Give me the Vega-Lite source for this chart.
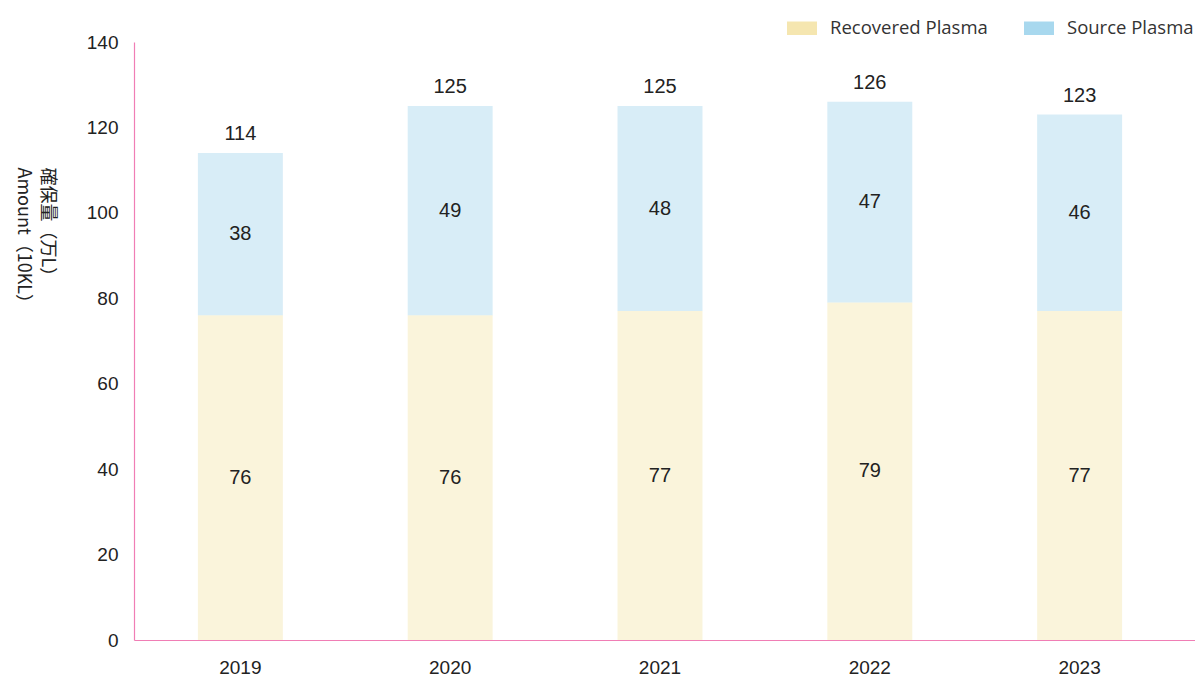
{
  "$schema": "https://vega.github.io/schema/vega-lite/v6.json",
  "width": 1061,
  "height": 598,
  "autosize": {"type": "none"},
  "padding": {"left": 134, "top": 42, "right": 0, "bottom": 38},
  "background": "white",
  "config": {
    "view": {"stroke": null},
    "font": "Liberation Sans"
  },
  "data": {
    "values": [
      {"year": "2019", "type": "Recovered Plasma", "amount": 76},
      {"year": "2019", "type": "Source Plasma", "amount": 38},
      {"year": "2020", "type": "Recovered Plasma", "amount": 76},
      {"year": "2020", "type": "Source Plasma", "amount": 49},
      {"year": "2021", "type": "Recovered Plasma", "amount": 77},
      {"year": "2021", "type": "Source Plasma", "amount": 48},
      {"year": "2022", "type": "Recovered Plasma", "amount": 79},
      {"year": "2022", "type": "Source Plasma", "amount": 47},
      {"year": "2023", "type": "Recovered Plasma", "amount": 77},
      {"year": "2023", "type": "Source Plasma", "amount": 46}
    ]
  },
  "encoding": {
    "x": {
      "field": "year",
      "type": "nominal",
      "scale": {"paddingInner": 0.595, "paddingOuter": 0.326, "align": 0.467},
      "axis": {
        "title": null,
        "labelAngle": 0,
        "labelFontSize": 19,
        "labelColor": "#222222",
        "labelPadding": 18,
        "ticks": false,
        "domainColor": "#F07EB5",
        "domainWidth": 1.2
      }
    }
  },
  "layer": [
    {
      "mark": {"type": "bar", "fillOpacity": 0.45},
      "encoding": {
        "y": {
          "field": "amount",
          "type": "quantitative",
          "stack": "zero",
          "scale": {"domain": [0, 140], "nice": false},
          "axis": {
            "values": [0, 20, 40, 60, 80, 100, 120, 140],
            "grid": false,
            "ticks": false,
            "labelFontSize": 19,
            "labelColor": "#222222",
            "labelPadding": 16,
            "domainColor": "#F07EB5",
            "domainWidth": 1.2,
            "title": ["確保量（万L）", "Amount（10KL）"],
            "titleFont": "Noto Sans CJK JP",
            "titleFontSize": 18,
            "titleFontWeight": "normal",
            "titleColor": "#222222",
            "titleAngle": 90,
            "titleAlign": "left",
            "titleBaseline": "top",
            "titleLineHeight": 24,
            "titleX": -79,
            "titleY": 125
          }
        },
        "color": {
          "field": "type",
          "type": "nominal",
          "scale": {"domain": ["Recovered Plasma", "Source Plasma"], "range": ["#F5E6B0", "#A8D8EE"]},
          "legend": {
            "title": null,
            "orient": "none",
            "legendX": 653,
            "legendY": -29,
            "direction": "horizontal",
            "labelFont": "Open Sans",
            "labelFontSize": 18.5,
            "labelColor": "#333333",
            "labelOffset": 13,
            "columnPadding": 36,
            "symbolType": "M-1,-0.45L1,-0.45L1,0.45L-1,0.45Z",
            "symbolSize": 900,
            "symbolStrokeWidth": 0,
            "padding": 0,
            "encode": {"symbols": {"update": {"fillOpacity": {"value": 1}, "opacity": {"value": 1}}}}
          }
        },
        "order": {"field": "type", "sort": "ascending"}
      }
    },
    {
      "transform": [
        {"stack": "amount", "groupby": ["year"], "sort": [{"field": "type", "order": "ascending"}], "as": ["s0", "s1"]},
        {"fold": ["s0", "s1"], "as": ["edge", "pos"]},
        {"aggregate": [{"op": "mean", "field": "pos", "as": "mid"}], "groupby": ["year", "type", "amount"]}
      ],
      "mark": {"type": "text", "fontSize": 20, "color": "#222222", "baseline": "middle"},
      "encoding": {
        "y": {"field": "mid", "type": "quantitative"},
        "text": {"field": "amount", "type": "quantitative"}
      }
    },
    {
      "mark": {"type": "text", "fontSize": 20, "color": "#222222", "baseline": "bottom", "dy": -9},
      "encoding": {
        "y": {"aggregate": "sum", "field": "amount", "type": "quantitative"},
        "text": {"aggregate": "sum", "field": "amount", "type": "quantitative"}
      }
    }
  ]
}
